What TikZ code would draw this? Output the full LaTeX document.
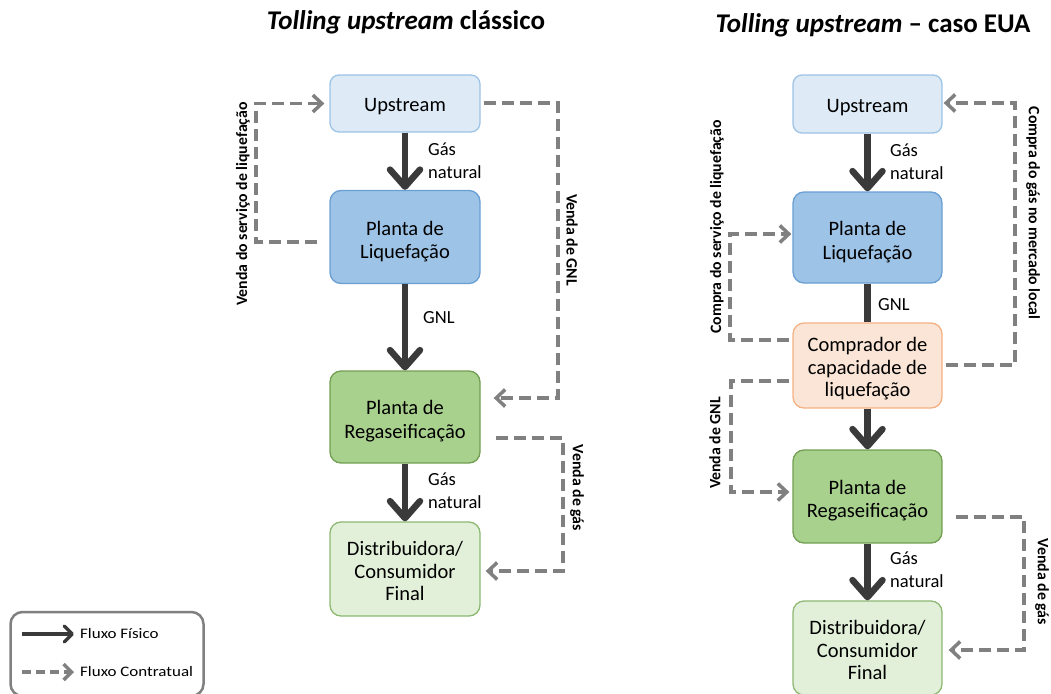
\documentclass[tikz,border=0pt]{standalone}
\usepackage{fontspec}
\setmainfont{Carlito}
\usepackage{graphicx}
\usetikzlibrary{arrows.meta}

\definecolor{upfill}{HTML}{DEEBF7}
\definecolor{updraw}{HTML}{9DC3E6}
\definecolor{liqfill}{HTML}{9DC3E6}
\definecolor{liqdraw}{HTML}{6A9FD3}
\definecolor{regfill}{HTML}{A9D18E}
\definecolor{regdraw}{HTML}{719E52}
\definecolor{disfill}{HTML}{E2F0D9}
\definecolor{disdraw}{HTML}{8DB873}
\definecolor{compfill}{HTML}{FBE5D6}
\definecolor{compdraw}{HTML}{F4B183}
\definecolor{physcol}{HTML}{3A3A3A}
\definecolor{contcol}{HTML}{808080}

% tall strut on the first line of a box, so the text sits a little low
\newcommand{\firstline}[1][23pt]{\rule{0pt}{#1}}

\tikzset{
  box/.style={draw, rounded corners=11pt, line width=1.3pt, align=center,
    inner sep=0pt, font=\fontsize{20.5}{23.5}\selectfont},
  upbox/.style={box, fill=upfill, draw=updraw, rounded corners=9pt,
    execute at begin node={\rule{0pt}{20pt}}},
  liqbox/.style={box, fill=liqfill, draw=liqdraw},
  regbox/.style={box, fill=regfill, draw=regdraw},
  disbox/.style={box, fill=disfill, draw=disdraw, font=\fontsize{20.5}{22.5}\selectfont},
  compbox/.style={box, fill=compfill, draw=compdraw, font=\fontsize{20.5}{22.5}\selectfont},
  physical/.style={draw=physcol, line width=6.5pt,
    -{Straight Barb[length=17pt,width=30pt,round]}},
  physline/.style={draw=physcol, line width=6.5pt},
  contract/.style={draw=contcol, line width=3.5pt, dash pattern=on 12pt off 6pt,
    -{Straight Barb[length=9pt,width=17pt]}},
  flowlabel/.style={anchor=west, align=left, inner sep=0pt,
    font=\fontsize{18.5}{23}\selectfont},
  sidelabel/.style={inner sep=0pt, font=\bfseries\fontsize{15.8}{17}\selectfont},
  titlelabel/.style={inner sep=0pt, font=\bfseries\fontsize{27}{31}\selectfont},
  legendtext/.style={anchor=west, inner sep=0pt, font=\fontsize{14.5}{16}\selectfont},
}

\begin{document}
\begin{tikzpicture}[x=1pt, y=-1pt]
\useasboundingbox (0,0) rectangle (1051,693);

% ---------- titles ----------
\node[titlelabel] (titleL) at (406,22) {\textit{Tolling upstream} clássico};
\node[titlelabel] (titleR) at (873,25) {\textit{Tolling upstream} – caso EUA};

% ---------- classic tolling chain ----------
\node[upbox, minimum width=150pt, minimum height=57pt] (upL) at (405,103.5) {Upstream};
\node[liqbox, minimum width=150pt, minimum height=93pt] (liqL) at (405,237) {\firstline Planta de\\Liquefação};
\node[regbox, minimum width=150pt, minimum height=92pt] (regL) at (405,417) {\firstline Planta de\\Regaseificação};
\node[disbox, minimum width=150pt, minimum height=94pt] (disL) at (405,569) {\firstline[19pt]Distribuidora/\\Consumidor\\Final};

\draw[physical] (upL) -- (liqL);
\draw[physical] (liqL) -- (regL);
\draw[physical] (regL) -- (disL);

\node[flowlabel] (gnA) at (428,161) {Gás\\natural};
\node[flowlabel] (gnlA) at (423,318) {GNL};
\node[flowlabel] (gnB) at (428,491) {Gás\\natural};

% contractual flows
\coordinate (cL1) at (256,242);
\draw[contract, shorten <=12pt, shorten >=5pt] (liqL.west |- cL1) -- (cL1) |- (upL.west);
\coordinate (cL2) at (558,103);
\coordinate (cL3) at (558,398);
\draw[contract, shorten <=3pt, shorten >=13pt] (upL.east |- cL2) -- (cL2) -- (cL3) -- (regL.east |- cL3);
\coordinate (cL4) at (563,438);
\coordinate (cL5) at (563,571);
\draw[contract, shorten <=15pt, shorten >=5pt] (regL.east |- cL4) -- (cL4) -- (cL5) -- (disL.east |- cL5);

\node[sidelabel, rotate=90] (sl1) at (243,204) {Venda do serviço de liquefação};
\node[sidelabel, rotate=-90] (sl2) at (572,240) {Venda de GNL};
\node[sidelabel, rotate=-90] (sl3) at (577,488) {Venda de gás};

% ---------- US case chain ----------
\node[upbox, minimum width=149pt, minimum height=58pt] (upR) at (867.5,104) {Upstream};
\node[liqbox, minimum width=149pt, minimum height=91pt] (liqR) at (867.5,237.5) {\firstline Planta de\\Liquefação};
\node[compbox, minimum width=149pt, minimum height=85pt] (compR) at (867.5,365.5) {\firstline[21pt]Comprador de\\capacidade de\\liquefação};
\node[regbox, minimum width=149pt, minimum height=93pt] (regR) at (867.5,496.5) {\firstline Planta de\\Regaseificação};
\node[disbox, minimum width=149pt, minimum height=94pt] (disR) at (867.5,648) {\firstline[19pt]Distribuidora/\\Consumidor\\Final};

\draw[physical] (upR) -- (liqR);
\draw[physline] (liqR) -- (compR);
\draw[physical] (compR) -- (regR);
\draw[physical] (regR) -- (disR);

\node[flowlabel] (gnC) at (890,162) {Gás\\natural};
\node[flowlabel] (gnlB) at (878,305) {GNL};
\node[flowlabel] (gnD) at (890,570) {Gás\\natural};

% contractual flows
\coordinate (cR1) at (730,340);
\coordinate (cR2) at (730,234);
\draw[contract, shorten <=3pt, shorten >=1pt] (compR.west |- cR1) -- (cR1) -- (cR2) -- (liqR.west |- cR2);
\coordinate (cR3) at (1015,365);
\coordinate (cR4) at (1015,103);
\draw[contract, shorten <=3pt, shorten >=1pt] (compR.east |- cR3) -- (cR3) -- (cR4) -- (upR.east |- cR4);
\coordinate (cR5) at (731,381);
\coordinate (cR6) at (731,492);
\draw[contract, shorten <=3pt, shorten >=3pt] (compR.west |- cR5) -- (cR5) -- (cR6) -- (regR.west |- cR6);
\coordinate (cR7) at (1024,517);
\coordinate (cR8) at (1024,650);
\draw[contract, shorten <=13pt, shorten >=6pt] (regR.east |- cR7) -- (cR7) -- (cR8) -- (disR.east |- cR8);

\node[sidelabel, rotate=90] (sr1) at (717,227) {Compra do serviço de liquefação};
\node[sidelabel, rotate=-90] (sr2) at (1033,213) {Compra do gás no mercado local};
\node[sidelabel, rotate=90] (sr3) at (715,443) {Venda de GNL};
\node[sidelabel, rotate=-90] (sr4) at (1042,582) {Venda de gás};

% ---------- legend ----------
\node[draw=contcol, line width=2.5pt, rounded corners=12pt, minimum width=193pt,
  minimum height=84pt, inner sep=0pt] (legend) at (107,654) {};
\coordinate (lgA) at (22,634);
\coordinate (lgB) at (74,634);
\coordinate (lgC) at (22,672);
\coordinate (lgD) at (74,672);
\draw[draw=physcol, line width=3.5pt, -{Straight Barb[length=8pt,width=16pt,round]}] (lgA) -- (lgB);
\draw[draw=contcol, line width=3.5pt, dash pattern=on 9pt off 5pt,
  -{Straight Barb[length=8pt,width=16pt]}] (lgC) -- (lgD);
\node[legendtext] (lg1) at (80,634) {\scalebox{1.17}[1]{Fluxo Físico}};
\node[legendtext] (lg2) at (80,672) {\scalebox{1.17}[1]{Fluxo Contratual}};
\end{tikzpicture}
\end{document}
